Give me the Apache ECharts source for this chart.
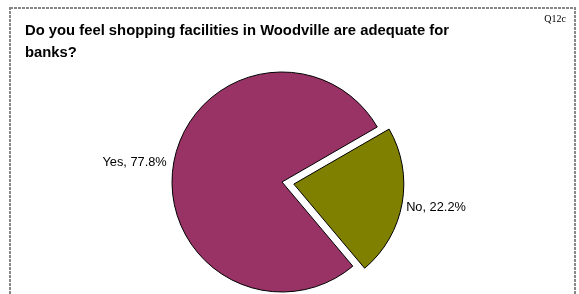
<!DOCTYPE html>
<html>
<head>
<meta charset="utf-8">
<script src="https://cdn.jsdelivr.net/npm/echarts@6/dist/echarts.min.js"></script>
<style>html,body{margin:0;padding:0;background:#fff}#c{width:579px;height:294px}</style>
</head>
<body>
<div id="c"></div>
<script>
const categories = ['No', 'Yes'];
const values = [22.2, 77.8];
const colors = ['#808000', '#993366'];
const titleText = 'Do you feel shopping facilities in Woodville are adequate for\nbanks?';
const codeText = 'Q12c';

const chart = echarts.init(document.getElementById('c'), null, {renderer: 'canvas'});
chart.setOption({
  backgroundColor: '#ffffff',
  animation: false,
  title: {
    text: titleText,
    left: 20,
    top: 15,
    textStyle: {fontFamily: 'Liberation Sans, Arial, sans-serif', fontWeight: 'bold', fontSize: 14.8, color: '#000', lineHeight: 22}
  },
  graphic: [
    {type: 'rect', shape: {x: 10, y: 8, width: 565, height: 300}, style: {fill: 'none', stroke: '#888888', lineWidth: 2, lineDash: [3, 1]}, silent: true},
    {type: 'text', right: 13, top: 14, style: {text: codeText, font: '10px "Liberation Serif", "Times New Roman", serif', fill: '#000'}}
  ],
  series: [{
    type: 'pie',
    center: [282, 182],
    radius: 110,
    startAngle: 30,
    clockwise: true,
    selectedMode: 'single',
    selectedOffset: 12,
    avoidLabelOverlap: false,
    itemStyle: {borderColor: '#000', borderWidth: 1},
    label: {
      show: true,
      position: 'outside',
      fontFamily: 'Liberation Sans, Arial, sans-serif',
      fontSize: 12.8,
      color: '#000',
      formatter: p => p.name + ', ' + p.value.toFixed(1) + '%'
    },
    labelLine: {show: false, length: 2, length2: 0},
    labelLayout: p => p.dataIndex === 0 ? {dx: -3, dy: 4} : {},
    emphasis: {disabled: true},
    data: categories.map((c, i) => ({name: c, value: values[i], selected: c === 'No', itemStyle: {color: colors[i]}}))
  }]
});
</script>
</body>
</html>
